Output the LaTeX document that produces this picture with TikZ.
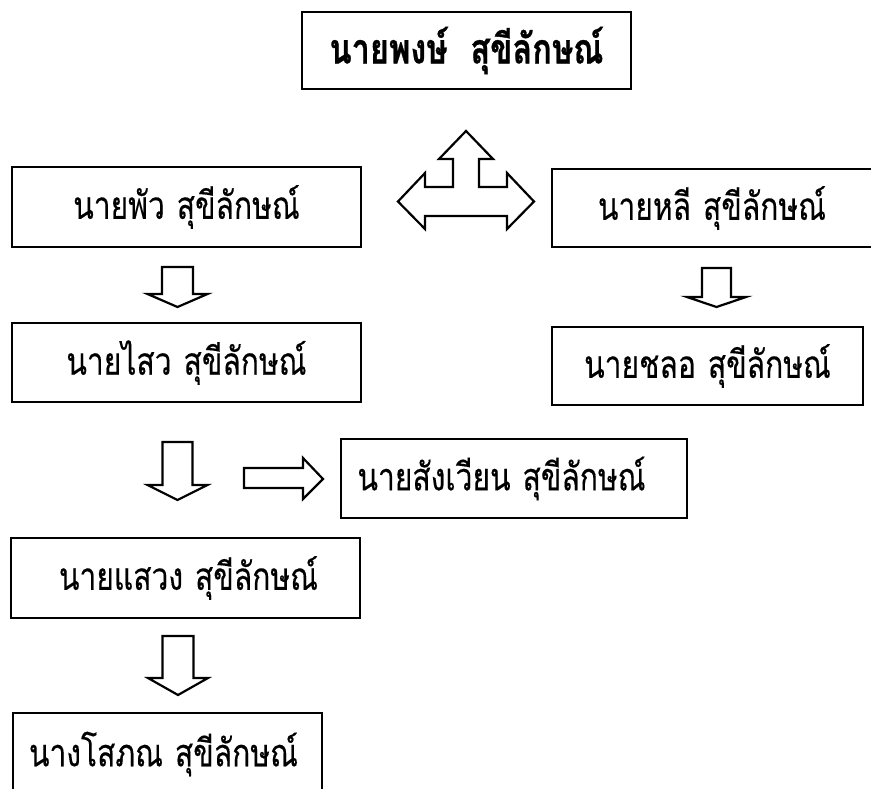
\documentclass[tikz,border=0pt]{standalone}
\usepackage{fontspec}
\usepackage{graphicx}
\newfontfamily\thai[Script=Thai,FakeBold=0.35]{Loma}
\newfontfamily\thaibold[Script=Thai,FakeBold=0.8]{Loma Bold}
\newcommand\tallt[1]{\scalebox{1}[1.28]{#1}}
\newcommand\dnarr[6]{% x, top, base, tip, halfstem, halfhead
  \draw[blockarr] (#1-#5,#2) -- (#1+#5,#2) -- (#1+#5,#3) -- (#1+#6,#3) -- (#1,#4) -- (#1-#6,#3) -- (#1-#5,#3) -- cycle;}
\begin{document}
\begin{tikzpicture}[x=1pt,y=-1pt,
  box/.style={draw, line width=1.7pt, inner sep=0pt, font=\thai\fontsize{30}{36}\selectfont},
  blockarr/.style={draw, fill=white, line width=2.2pt, line join=miter}]
\useasboundingbox (0,0) rectangle (871,788);
\clip (0,0) rectangle (871,788);
% boxes
\node[box, minimum width=329, minimum height=77, font=\thaibold\fontsize{32.5}{36}\selectfont] (A) at (466.5,50.5) {\tallt{นายพงษ์\hspace{0.7em}สุขีลักษณ์}};
\node[box, minimum width=349, minimum height=80] (B) at (186.5,207) {\tallt{นายพัว\hspace{0.4em}สุขีลักษณ์}};
\node[box, minimum width=320, minimum height=78] (C) at (712,208) {\tallt{นายหลี\hspace{0.4em}สุขีลักษณ์}};
\node[box, minimum width=349, minimum height=79] (D) at (186.5,362.5) {\tallt{นายไสว\hspace{0.4em}สุขีลักษณ์}};
\node[box, minimum width=311, minimum height=78] (E) at (707.5,366) {\tallt{นายชลอ\hspace{0.4em}สุขีลักษณ์}};
\node[box, minimum width=346, minimum height=79] (F) at (514,478.5) {\hspace*{-25pt}\tallt{นายสังเวียน\hspace{0.4em}สุขีลักษณ์}};
\node[box, minimum width=349, minimum height=80] (G) at (185.5,578) {\hspace*{6pt}\tallt{นายแสวง\hspace{0.4em}สุขีลักษณ์}};
\node[box, minimum width=309, minimum height=82] (H) at (167.5,754) {\hspace*{-8pt}\tallt{นางโสภณ\hspace{0.4em}สุขีลักษณ์}};
% triple arrow
\draw[blockarr] (466,131) -- (493,159) -- (479,159) -- (479,187) -- (507,187) -- (507,173)
  -- (534,201.5) -- (507,229) -- (507,216) -- (425,216) -- (425,229) -- (398,201.5)
  -- (425,173) -- (425,187) -- (453,187) -- (453,159) -- (439,159) -- cycle;
% down arrows
\dnarr{177.5}{267}{294}{307}{15.5}{30}
\dnarr{716.5}{268}{297}{307}{14.5}{29.5}
\dnarr{177.5}{442}{485}{500}{15}{30}
\dnarr{178}{636}{678}{695}{15.5}{30}
% right arrow
\draw[blockarr] (244,468) -- (303,468) -- (303,458) -- (323,479) -- (303,499) -- (303,488) -- (244,488) -- cycle;
\end{tikzpicture}
\end{document}
